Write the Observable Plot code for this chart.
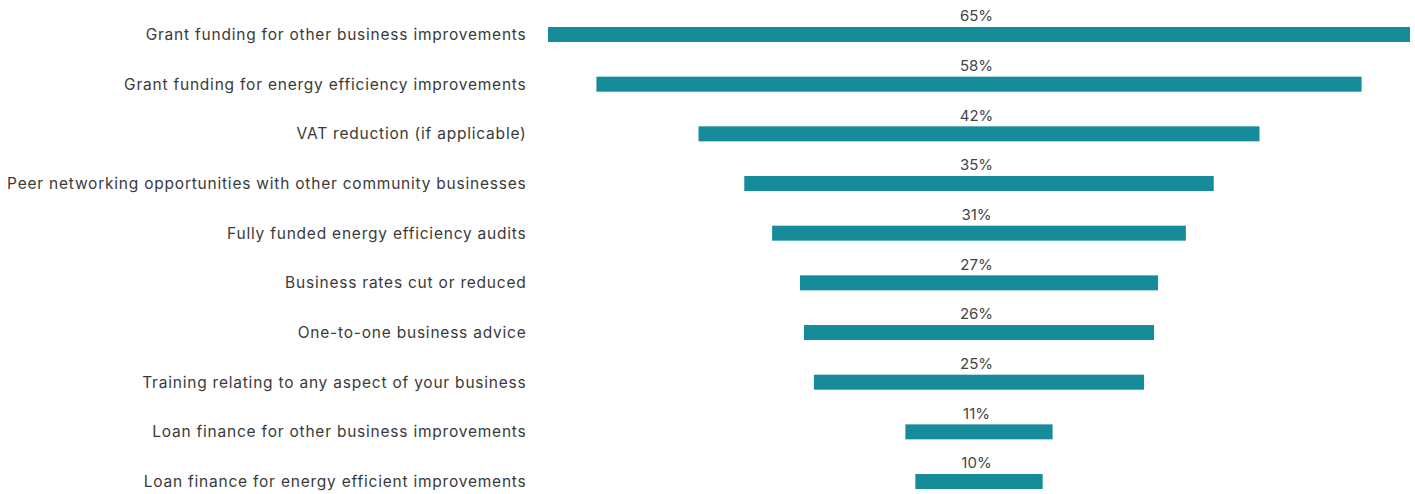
<!DOCTYPE html>
<html>
<head>
<meta charset="utf-8">
<script src="https://cdn.jsdelivr.net/npm/d3@7"></script>
<script src="https://cdn.jsdelivr.net/npm/@observablehq/plot@0.6"></script>
<style>
  html, body { margin: 0; padding: 0; background: #fff; }
  #chart svg { display: block; }
</style>
</head>
<body>
<div id="chart"></div>
<script>
const categories = [
  "Grant funding for other business improvements",
  "Grant funding for energy efficiency improvements",
  "VAT reduction (if applicable)",
  "Peer networking opportunities with other community businesses",
  "Fully funded energy efficiency audits",
  "Business rates cut or reduced",
  "One-to-one business advice",
  "Training relating to any aspect of your business",
  "Loan finance for other business improvements",
  "Loan finance for energy efficient improvements"
];
const values = [65.0, 57.7, 42.3, 35.4, 31.2, 27.0, 26.4, 24.9, 11.1, 9.6];

const data = categories.map((c, i) => ({category: c, value: values[i]}));

const W = 1415, H = 494;
const rowStep = 49.67, barW = 15;
const padIn = 1 - barW / rowStep;
const rangeTop = 27 - rowStep * padIn / 2;

const chart = Plot.plot({
  width: W,
  height: H,
  marginLeft: 548,
  marginRight: 5,
  marginTop: 0,
  marginBottom: 0,
  style: {fontFamily: "Inter, sans-serif", color: "#3a3a3a", background: "#fff"},
  x: {domain: [-32.5, 32.5], axis: null},
  y: {
    domain: categories,
    range: [rangeTop, rangeTop + rowStep * categories.length],
    paddingInner: padIn,
    paddingOuter: padIn / 2,
    round: false,
    label: null
  },
  marks: [
    Plot.barX(data, {
      y: "category",
      x1: d => -d.value / 2,
      x2: d => d.value / 2,
      fill: "#168b9a"
    }),
    Plot.text(data, {
      y: "category",
      x: 0,
      text: d => d3.format(".0f")(d.value) + "%",
      dy: -18.5,
      dx: -3,
      fontSize: 15,
      fill: "#444"
    }),
    Plot.axisY({
      tickSize: 0,
      tickPadding: 22,
      fontSize: 15.5,
      fill: "#3a3a3a",
      label: null
    })
  ]
});
d3.select(chart).selectAll('g[aria-label="y-axis tick label"] text')
  .style("letter-spacing", "0.78px");
document.getElementById("chart").appendChild(chart);
</script>
</body>
</html>
